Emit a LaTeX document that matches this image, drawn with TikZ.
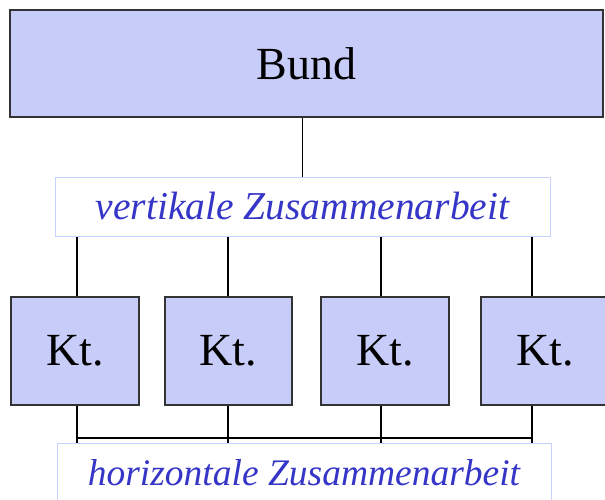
\documentclass[tikz,border=0pt]{standalone}
\usepackage{fontspec}
\setmainfont{Liberation Serif}
\definecolor{boxfill}{HTML}{C8CCF8}
\definecolor{boxline}{HTML}{333333}
\definecolor{labline}{HTML}{C8D0FF}
\definecolor{labtext}{HTML}{3535C8}
\begin{document}
\begin{tikzpicture}[x=1pt,y=-1pt,
  unit/.style={draw=boxline,fill=boxfill,line width=1.5pt,inner sep=0pt,
    minimum height=108pt,font=\fontsize{46}{50}\selectfont},
  lab/.style={draw=labline,fill=white,line width=1pt,inner sep=0pt,
    minimum height=59pt,text=labtext},
  conn/.style={draw=black,line width=1.2pt}]
\useasboundingbox (0,0) rectangle (605,500);
\clip (0,0) rectangle (605,500);
\node[unit,minimum width=593pt,minimum height=107pt] (bund) at (306.5,63.5) {Bund};
\node[lab,minimum width=495pt,font=\fontsize{39.5}{43}\selectfont\itshape] (vert) at (302.5,206.5) {vertikale Zusammenarbeit};
\node[unit,minimum width=128pt] (k1) at (75,351) {Kt.};
\node[unit,minimum width=127pt] (k2) at (228.5,351) {Kt.};
\node[unit,minimum width=128pt] (k3) at (385,351) {Kt.};
\node[unit,minimum width=128pt] (k4) at (545,351) {Kt.};
\coordinate (c1) at (77,438);
\coordinate (c2) at (228,438);
\coordinate (c3) at (381,438);
\coordinate (c4) at (532,438);
\node[lab,minimum width=494pt,font=\fontsize{37.5}{41}\selectfont\itshape] (hz) at (304,472.5) {horizontale Zusammenarbeit};
\draw[conn] (bund.south -| vert.north) -- (vert.north);
\foreach \i in {1,2,3,4}{
  \draw[conn] (c\i |- vert.south) -- (c\i |- k\i.north);
  \draw[conn] (c\i |- k\i.south) -- (c\i |- hz.north);
}
\draw[conn] (c1) -- (c4);
\end{tikzpicture}
\end{document}
